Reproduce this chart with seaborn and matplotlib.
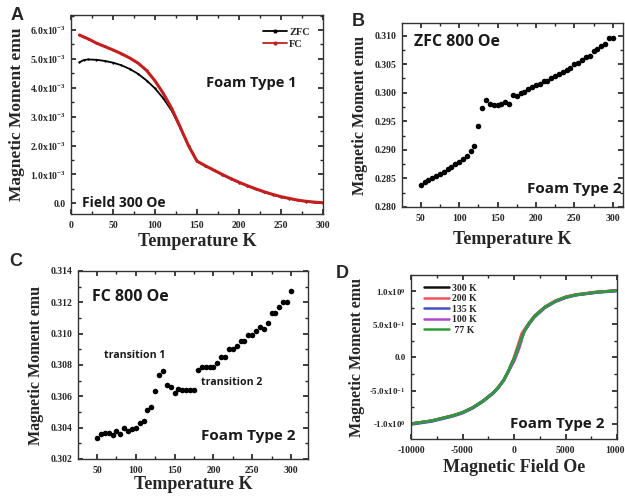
import numpy as np
import pandas as pd
import matplotlib
matplotlib.use("Agg")
import matplotlib.pyplot as plt
from matplotlib.ticker import MultipleLocator, FuncFormatter, FixedLocator
from matplotlib.lines import Line2D
import seaborn as sns

# ---------------- data ----------------
# (A) Foam type 1, field 300 Oe: moment vs temperature (emu)
temp_a = [10, 15, 20, 30, 40, 50, 60, 70, 80, 90, 100, 110, 120, 130, 140, 150,
          160, 170, 180, 190, 200, 210, 220, 230, 240, 250, 260, 270, 280, 290, 300]
zfc_a = [4.88e-3, 4.96e-3, 4.98e-3, 4.97e-3, 4.93e-3, 4.87e-3, 4.78e-3, 4.65e-3, 4.48e-3,
         4.25e-3, 3.98e-3, 3.63e-3, 3.20e-3, 2.62e-3, 1.98e-3, 1.45e-3, 1.29e-3, 1.14e-3,
         0.99e-3, 0.85e-3, 0.72e-3, 0.60e-3, 0.49e-3, 0.39e-3, 0.30e-3, 0.22e-3, 0.16e-3,
         0.10e-3, 0.06e-3, 0.03e-3, 0.01e-3]
fc_a = [5.83e-3, 5.76e-3, 5.70e-3, 5.55e-3, 5.43e-3, 5.31e-3, 5.18e-3, 5.03e-3, 4.85e-3,
        4.60e-3, 4.24e-3, 3.80e-3, 3.28e-3, 2.64e-3, 1.99e-3, 1.46e-3, 1.30e-3, 1.15e-3,
        1.00e-3, 0.86e-3, 0.73e-3, 0.61e-3, 0.50e-3, 0.40e-3, 0.31e-3, 0.23e-3, 0.17e-3,
        0.11e-3, 0.07e-3, 0.04e-3, 0.02e-3]

# (B) Foam type 2, ZFC 800 Oe
temp_b = [50, 55, 60, 65, 70, 75, 80, 85, 90, 95, 100, 105, 110, 115, 120, 125, 130, 135,
          140, 145, 150, 155, 160, 165, 170, 175, 180, 185, 190, 195, 200, 205, 210, 215,
          220, 225, 230, 235, 240, 245, 250, 255, 260, 265, 270, 275, 280, 285, 290, 295, 300]
zfc_b = [0.2838, 0.2844, 0.2847, 0.2851, 0.2854, 0.2858, 0.2862, 0.2867, 0.2870, 0.2875,
         0.2879, 0.2884, 0.2890, 0.2898, 0.2906, 0.2941, 0.2973, 0.2987, 0.2981, 0.2978,
         0.2978, 0.2980, 0.2983, 0.2981, 0.2996, 0.2995, 0.2999, 0.3002, 0.3006, 0.3010,
         0.3013, 0.3016, 0.3020, 0.3021, 0.3026, 0.3029, 0.3033, 0.3037, 0.3040, 0.3044,
         0.3050, 0.3052, 0.3057, 0.3063, 0.3065, 0.3073, 0.3077, 0.3081, 0.3086, 0.3095,
         0.3095]

# (C) Foam type 2, FC 800 Oe
temp_c = temp_b
fc_c = [0.30335, 0.30360, 0.30363, 0.30363, 0.30350, 0.30380, 0.30360, 0.30400, 0.30380,
        0.30390, 0.30400, 0.30430, 0.30440, 0.30510, 0.30530, 0.30636, 0.30734, 0.30760,
        0.30670, 0.30660, 0.30620, 0.30646, 0.30640, 0.30640, 0.30640, 0.30640, 0.30770,
        0.30790, 0.30790, 0.30790, 0.30790, 0.30810, 0.30850, 0.30850, 0.30900, 0.30900,
        0.30920, 0.30950, 0.30950, 0.30990, 0.30990, 0.31020, 0.31040, 0.31030, 0.31070,
        0.31130, 0.31130, 0.31170, 0.31200, 0.31200, 0.31270]

# (D) Foam type 2, moment vs field at several temperatures
field_d = [-10000, -8000, -6000, -5000, -4000, -3000, -2000, -1500, -1000, -500, -250, 0,
           250, 500, 750, 1000, 1500, 2000, 3000, 4000, 5000, 6000, 8000, 10000]
m_300k = [-1.000, -0.955, -0.880, -0.830, -0.755, -0.655, -0.530, -0.445, -0.340, -0.190,
          -0.100, -0.020, 0.080, 0.190, 0.300, 0.400, 0.525, 0.625, 0.760, 0.850, 0.910,
          0.945, 0.985, 1.010]
m_200k = [-1.000, -0.955, -0.880, -0.830, -0.755, -0.655, -0.530, -0.445, -0.340, -0.190,
          -0.100, 0.000, 0.120, 0.240, 0.360, 0.420, 0.530, 0.630, 0.765, 0.855, 0.915,
          0.950, 0.990, 1.010]
m_135k = [-1.010, -0.965, -0.890, -0.840, -0.765, -0.665, -0.540, -0.455, -0.350, -0.200,
          -0.110, -0.030, 0.070, 0.170, 0.290, 0.390, 0.510, 0.610, 0.750, 0.840, 0.900,
          0.940, 0.980, 1.005]
m_100k = [-1.000, -0.955, -0.880, -0.830, -0.755, -0.655, -0.530, -0.445, -0.340, -0.200,
          -0.130, -0.060, 0.040, 0.140, 0.270, 0.400, 0.525, 0.625, 0.760, 0.850, 0.910,
          0.945, 0.985, 1.010]
m_77k = [-1.000, -0.955, -0.880, -0.830, -0.755, -0.655, -0.530, -0.445, -0.340, -0.190,
         -0.100, -0.020, 0.080, 0.190, 0.300, 0.400, 0.525, 0.625, 0.760, 0.850, 0.910,
         0.945, 0.985, 1.010]
labels_d = ["300 K", "200 K", "135 K", "100 K", " 77 K"]
colors_d = ["#111111", "#f0505a", "#4650c0", "#b048c8", "#2f9a3c"]

# ---------------- style ----------------
sns.set_theme(style="ticks")
plt.rcParams.update({
    "font.family": ["Liberation Serif"],
    "font.weight": "bold",
    "axes.labelweight": "bold",
    "mathtext.fontset": "custom",
    "mathtext.rm": "Liberation Serif:bold",
    "mathtext.it": "Liberation Serif:bold",
    "mathtext.bf": "Liberation Serif:bold",
    "axes.linewidth": 1.0,
    "axes.edgecolor": "#333333",
    "xtick.direction": "in",
    "ytick.direction": "in",
    "xtick.top": True,
    "ytick.right": True,
    "xtick.minor.visible": True,
    "ytick.minor.visible": True,
    "xtick.major.size": 3.5,
    "ytick.major.size": 3.5,
    "xtick.minor.size": 2,
    "ytick.minor.size": 2,
    "xtick.labelsize": 7,
    "ytick.labelsize": 7,
    "xtick.major.pad": 5,
    "ytick.major.pad": 4,
})

W, H = 625, 496
fig = plt.figure(figsize=(W / 100, H / 100), dpi=100)


def add_axes(left, right, top, bottom):
    return fig.add_axes([left / W, 1 - bottom / H, (right - left) / W, (bottom - top) / H])


ax_a = add_axes(71, 323, 15, 214)
ax_b = add_axes(402, 623, 23, 207)
ax_c = add_axes(78, 308, 271, 459)
ax_d = add_axes(411, 617, 275, 439)

SANS = ["Open Sans", "DejaVu Sans"]
XLABEL_FS = 13
YLABEL_FS = 11.5


def note(ax, x, y, s, size=11):
    ax.text(x, y, s, transform=ax.transAxes, ha="left", va="center",
            fontsize=size, fontweight="bold", family=SANS, color="#1a1a1a")


def sci_fmt(v, _):
    if abs(v) < 1e-12:
        return "0.0"
    exp = int(np.floor(np.log10(abs(v)) + 1e-9))
    mant = v / 10 ** exp
    return f"{mant:.1f}x10$^{{{exp}}}$"


# ---- A ----
sns.lineplot(x=temp_a, y=zfc_a, ax=ax_a, color="black", lw=1.3, marker="o", ms=1.6,
             markeredgewidth=0, sort=False)
sns.lineplot(x=temp_a, y=fc_a, ax=ax_a, color="#c41e1e", lw=2.2, marker="o", ms=1.6,
             markeredgewidth=0, sort=False)
ax_a.set_xlim(0, 300)
ax_a.set_ylim(-0.37e-3, 6.52e-3)
ax_a.xaxis.set_major_locator(MultipleLocator(50))
ax_a.xaxis.set_minor_locator(MultipleLocator(25))
ax_a.yaxis.set_major_locator(MultipleLocator(1e-3))
ax_a.yaxis.set_minor_locator(MultipleLocator(0.5e-3))
ax_a.yaxis.set_major_formatter(FuncFormatter(sci_fmt))
ax_a.set_xlabel("Temperature K", fontsize=XLABEL_FS, labelpad=2)
ax_a.set_ylabel("Magnetic Moment emu", fontsize=YLABEL_FS + 1, labelpad=3)
handles_a = [Line2D([], [], color="black", lw=1.3, marker="o", ms=2),
             Line2D([], [], color="#c41e1e", lw=1.3, marker="o", ms=2)]
ax_a.legend(handles_a, ["ZFC", "FC"], loc="upper right", frameon=False, fontsize=7.5,
            handlelength=2.3, handletextpad=0.2, labelspacing=0.25,
            bbox_to_anchor=(0.985, 0.985))
note(ax_a, 0.535, 0.657, "Foam Type 1", size=10.5)
note(ax_a, 0.042, 0.055, "Field 300 Oe", size=10)

# ---- B ----
sns.scatterplot(x=temp_b, y=zfc_b, ax=ax_b, color="black", s=16, linewidth=0)
ax_b.set_xlim(25.6, 313.4)
ax_b.set_ylim(0.280, 0.3122)
ax_b.xaxis.set_major_locator(MultipleLocator(50))
ax_b.xaxis.set_minor_locator(MultipleLocator(25))
ax_b.yaxis.set_major_locator(MultipleLocator(0.005))
ax_b.yaxis.set_minor_locator(MultipleLocator(0.0025))
ax_b.yaxis.set_major_formatter(FuncFormatter(lambda v, _: f"{v:.3f}"))
ax_b.set_xlabel("Temperature K", fontsize=XLABEL_FS, labelpad=6)
ax_b.set_ylabel("Magnetic Moment emu", fontsize=YLABEL_FS, labelpad=5)
note(ax_b, 0.054, 0.897, "ZFC 800 Oe", size=11.5)
note(ax_b, 0.566, 0.098, "Foam Type 2", size=11)

# ---- C ----
sns.scatterplot(x=temp_c, y=fc_c, ax=ax_c, color="black", s=16, linewidth=0)
ax_c.set_xlim(25.4, 322)
ax_c.set_ylim(0.302, 0.314)
ax_c.xaxis.set_major_locator(MultipleLocator(50))
ax_c.xaxis.set_minor_locator(MultipleLocator(25))
ax_c.yaxis.set_major_locator(MultipleLocator(0.002))
ax_c.yaxis.set_minor_locator(MultipleLocator(0.001))
ax_c.yaxis.set_major_formatter(FuncFormatter(lambda v, _: f"{v:.3f}"))
ax_c.set_xlabel("Temperature K", fontsize=XLABEL_FS, labelpad=1)
ax_c.set_ylabel("Magnetic Moment emu", fontsize=YLABEL_FS, labelpad=5)
note(ax_c, 0.0596, 0.862, "FC 800 Oe", size=11.5)
note(ax_c, 0.1126, 0.553, "transition 1", size=7.6)
note(ax_c, 0.535, 0.407, "transition 2", size=7.6)
note(ax_c, 0.536, 0.12, "Foam Type 2", size=11)

# ---- D ----
series_d = [m_300k, m_200k, m_135k, m_100k, m_77k]
df_d = pd.DataFrame({
    "field": np.tile(field_d, len(series_d)),
    "moment": np.concatenate(series_d),
    "temp": np.repeat(labels_d, len(field_d)),
})
sns.lineplot(data=df_d, x="field", y="moment", hue="temp", hue_order=labels_d,
             palette=dict(zip(labels_d, colors_d)), ax=ax_d, lw=2.0, sort=False,
             legend=False)
ax_d.set_xlim(-10000, 10000)
ax_d.set_ylim(-1.23, 1.245)
ax_d.xaxis.set_major_locator(MultipleLocator(5000))
ax_d.xaxis.set_minor_locator(MultipleLocator(2500))
ax_d.yaxis.set_major_locator(FixedLocator([-1.0, -0.5, 0.0, 0.5, 1.0]))
ax_d.yaxis.set_minor_locator(MultipleLocator(0.25))
ax_d.yaxis.set_major_formatter(FuncFormatter(sci_fmt))
ax_d.xaxis.set_major_formatter(FuncFormatter(lambda v, _: f"{int(v)}"))
ax_d.tick_params(axis="y", labelsize=6.5)
ax_d.set_xlabel("Magnetic Field Oe", fontsize=XLABEL_FS, labelpad=3)
ax_d.set_ylabel("Magnetic Moment emu", fontsize=YLABEL_FS, labelpad=3)
handles_d = [Line2D([], [], color=c, lw=1.8) for c in colors_d]
ax_d.legend(handles_d, labels_d, loc="upper left", frameon=False, fontsize=7,
            handlelength=2.6, handletextpad=0.3, labelspacing=0.15,
            bbox_to_anchor=(0.02, 1.0))
note(ax_d, 0.48, 0.0915, "Foam Type 2", size=11)

# panel letters
for s, x, y in [("A", 17, 16), ("B", 358, 22), ("C", 16, 262), ("D", 342, 273)]:
    fig.text(x / W, 1 - y / H, s, ha="center", va="center", fontsize=13,
             fontweight="bold", family=["Liberation Sans"])

fig.savefig("out.png", dpi=100)
